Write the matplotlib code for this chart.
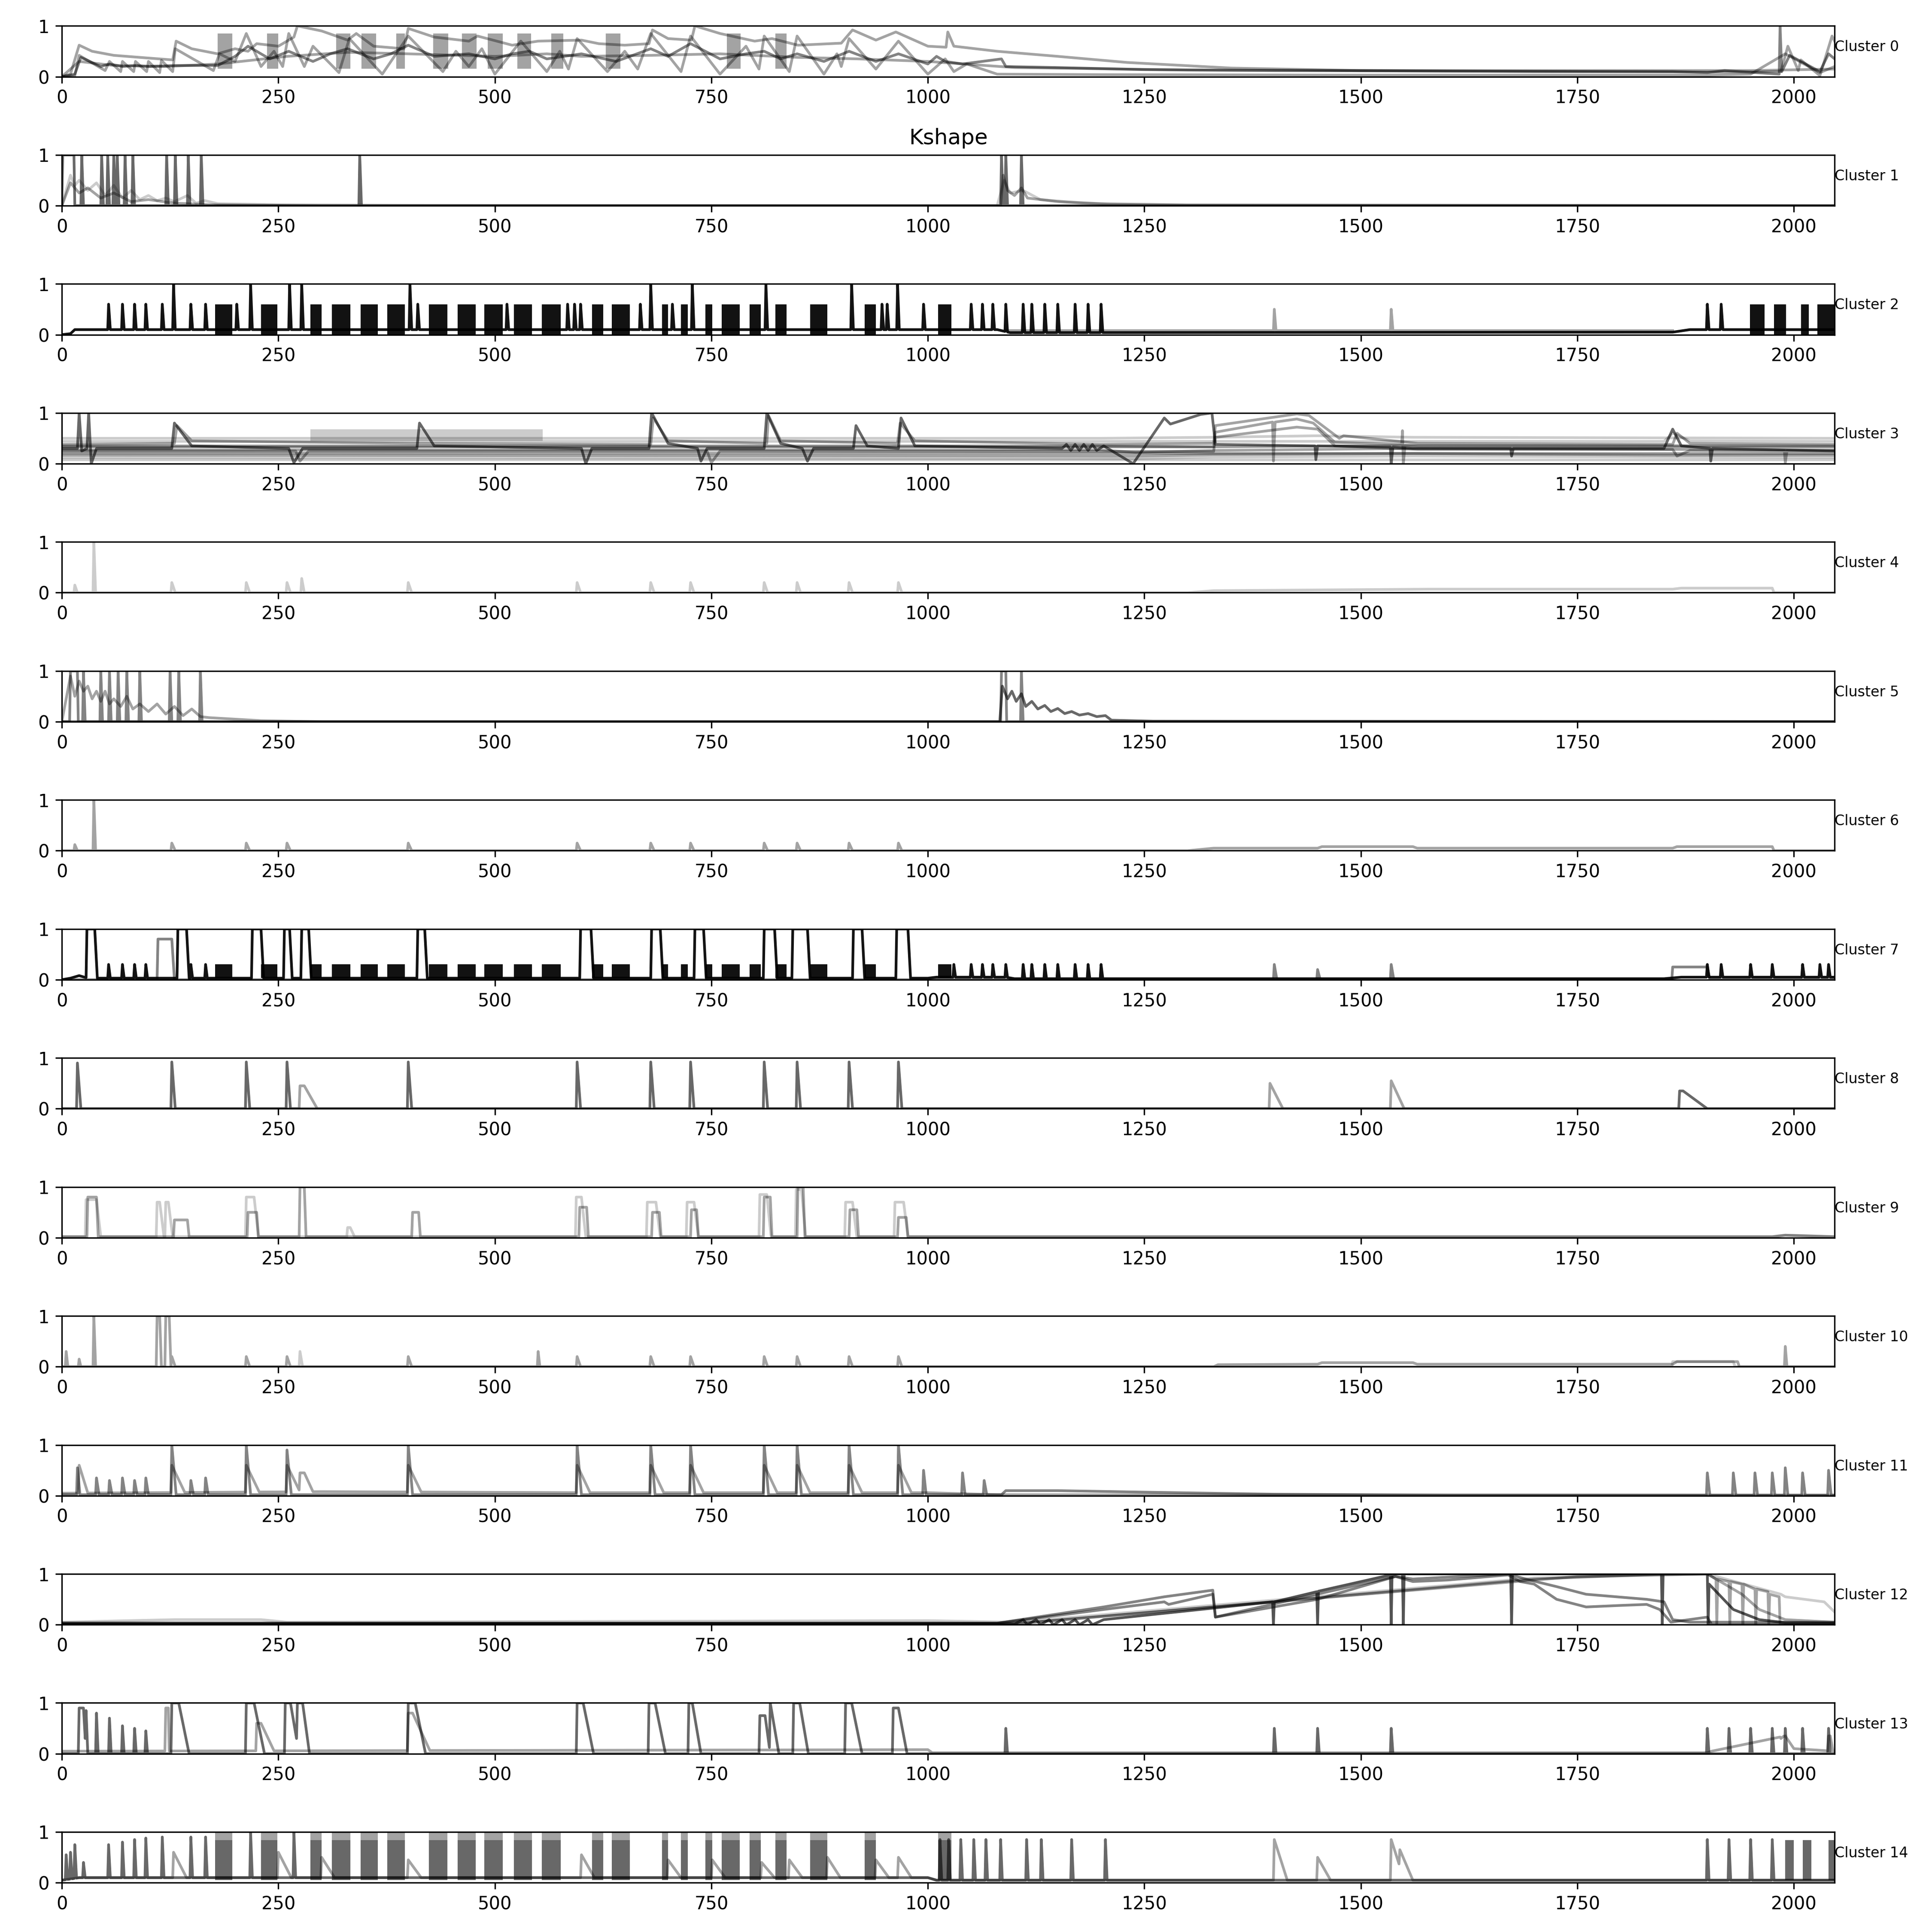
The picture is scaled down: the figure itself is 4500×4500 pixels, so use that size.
import numpy as np
import matplotlib.pyplot as plt

SERIES_LEN = 2047
TITLE = "Kshape"
LABEL = "Cluster {}"
XTICKS = [0, 250, 500, 750, 1000, 1250, 1500, 1750, 2000]

# recurring event times shared by many clusters
EV = [127, 213, 260, 400, 595, 680, 726, 811, 849, 909, 966]
# dense oscillation stretches (start, end)
BLOCKS = [(177, 197), (230, 249), (287, 300), (312, 333), (345, 365), (376, 396),
          (424, 445), (457, 478), (488, 509), (522, 543), (554, 576), (612, 625),
          (635, 656), (693, 700), (715, 723), (743, 751), (762, 783), (794, 807),
          (824, 837), (864, 884), (927, 940), (1012, 1027)]
BLOCKS_END = [(1949, 1966), (1977, 1991), (2008, 2017), (2027, 2047)]

# ---- cluster 0 --------------------------------------------------------------
C0_UPPER = [(0, 0), (10, 0.05), (20, 0.62), (35, 0.5), (60, 0.42), (90, 0.38), (128, 0.33),
            (132, 0.7), (150, 0.55), (180, 0.45), (200, 0.55), (215, 0.5), (225, 0.65),
            (250, 0.6), (268, 0.78), (272, 1.0), (300, 0.9), (330, 0.72), (340, 0.85),
            (360, 0.6), (395, 0.55), (400, 0.95), (430, 0.78), (470, 0.7), (480, 0.8),
            (520, 0.62), (550, 0.7), (600, 0.72), (620, 0.65), (650, 0.62), (678, 0.65),
            (682, 0.92), (700, 0.75), (727, 0.72), (731, 1.0), (760, 0.85), (800, 0.7),
            (820, 0.75), (850, 0.62), (900, 0.66), (913, 0.92), (940, 0.72), (963, 0.88),
            (1000, 0.6), (1021, 0.58), (1023, 0.88), (1030, 0.6), (1080, 0.5), (1150, 0.4),
            (1230, 0.28), (1350, 0.17), (1500, 0.12), (1700, 0.1), (1930, 0.09),
            (1985, 0.1), (1993, 0.6), (2005, 0.12), (2008, 0.33), (2030, 0.02),
            (2044, 0.8), (2047, 0.7)]
C0_LOWER = [(0, 0), (15, 0.02), (20, 0.42), (50, 0.12), (55, 0.3), (68, 0.1), (70, 0.3),
            (83, 0.1), (85, 0.3), (98, 0.1), (100, 0.3), (113, 0.08), (115, 0.32),
            (128, 0.1), (131, 0.55), (175, 0.12), (182, 0.45), (200, 0.3), (213, 0.85),
            (230, 0.2), (245, 0.5), (255, 0.2), (262, 0.85), (280, 0.2), (290, 0.6),
            (320, 0.08), (332, 0.75), (370, 0.05), (400, 0.8), (440, 0.1), (455, 0.5),
            (470, 0.2), (485, 0.55), (500, 0.05), (530, 0.7), (560, 0.1), (575, 0.5),
            (585, 0.15), (595, 0.75), (630, 0.1), (650, 0.5), (665, 0.15), (680, 0.85),
            (715, 0.1), (726, 0.8), (760, 0.05), (790, 0.6), (805, 0.15), (811, 0.8),
            (840, 0.1), (849, 0.8), (880, 0.05), (895, 0.45), (900, 0.2), (909, 0.75),
            (940, 0.15), (966, 0.7), (1000, 0.05), (1020, 0.35), (1030, 0.1),
            (1045, 0.25), (1080, 0.05), (1200, 0.04), (1500, 0.03), (1900, 0.03),
            (1950, 0.05), (1990, 0.45), (2030, 0.08), (2047, 0.2)]
C0_MID = [(0, 0), (15, 0.05), (22, 0.38), (45, 0.2), (55, 0.25), (70, 0.2), (85, 0.22),
          (100, 0.2), (130, 0.22), (180, 0.22), (200, 0.4), (215, 0.6), (240, 0.35),
          (262, 0.5), (290, 0.3), (310, 0.45), (330, 0.55), (360, 0.35), (380, 0.45),
          (400, 0.62), (430, 0.4), (470, 0.45), (500, 0.35), (520, 0.45), (540, 0.5),
          (560, 0.35), (600, 0.45), (640, 0.3), (680, 0.55), (700, 0.4), (726, 0.65),
          (760, 0.35), (790, 0.45), (811, 0.5), (830, 0.35), (849, 0.45), (880, 0.3),
          (909, 0.5), (940, 0.3), (966, 0.45), (1000, 0.25), (1010, 0.4), (1020, 0.3),
          (1040, 0.25), (1085, 0.35), (1090, 0.2), (1150, 0.18), (1250, 0.14),
          (1400, 0.12), (1600, 0.11), (1860, 0.1), (1900, 0.08), (1920, 0.12),
          (1983, 0.05), (1984, 1.0), (1986, 0.1), (1995, 0.42), (2030, 0.1),
          (2040, 0.45), (2047, 0.35)]
C0_SMOOTH = [(0, 0.0), (20, 0.3), (60, 0.22), (120, 0.2), (180, 0.25), (260, 0.4),
             (330, 0.48), (400, 0.45), (500, 0.4), (560, 0.45), (600, 0.4), (680, 0.42),
             (760, 0.45), (850, 0.38), (920, 0.35), (1000, 0.3), (1100, 0.18),
             (1300, 0.13), (1600, 0.12), (1950, 0.12), (2047, 0.15)]
C0_BLOCKS = [(180, 197), (237, 250), (317, 333), (346, 363), (386, 396), (429, 446),
             (462, 479), (492, 509), (526, 542), (565, 579), (628, 645), (768, 784),
             (824, 837)]

# ---- cluster 1 --------------------------------------------------------------
C1_SPIKE_POS = [23, 46, 53, 60, 64, 73, 82, 121, 131, 146, 161, 344, 1085, 1090, 1108]
C1_LIGHT = [(0, 0), (10, 0.6), (15, 0.4), (20, 0.5), (30, 0.3), (40, 0.45), (50, 0.2),
            (60, 0.4), (70, 0.15), (80, 0.3), (90, 0.12), (100, 0.2), (110, 0.1),
            (120, 0.15), (130, 0.08), (145, 0.2), (155, 0.05), (165, 0.1), (180, 0.04),
            (250, 0.02), (400, 0.01), (1080, 0.0), (1088, 0.5), (1095, 0.25),
            (1110, 0.3), (1130, 0.12), (1160, 0.08), (1200, 0.04), (1300, 0.02), (2047, 0.0)]
C1_MID = [(0, 0), (10, 0.45), (20, 0.25), (30, 0.35), (45, 0.15), (60, 0.25), (80, 0.08),
          (100, 0.12), (130, 0.05), (170, 0.02), (300, 0.0), (1084, 0), (1087, 0.6),
          (1092, 0.3), (1100, 0.2), (1108, 0.35), (1115, 0.15), (1130, 0.12),
          (1150, 0.08), (1180, 0.05), (1210, 0.03), (1300, 0.01), (2047, 0)]

# ---- cluster 2 --------------------------------------------------------------
C2_BASE = [(0, 0), (10, 0.02), (15, 0.1), (1080, 0.1), (1095, 0.04), (1860, 0.05),
           (1880, 0.1), (2047, 0.1)]
C2_SMALL = [54, 70, 84, 97, 116, 149, 166, 202, 411, 514, 584, 592, 599, 668, 705, 947,
            953, 995, 1050, 1063, 1075, 1090, 1110, 1120, 1135, 1150, 1170, 1185, 1200,
            1900, 1916]
C2_TALL = [129, 218, 263, 277, 402, 680, 728, 813, 912, 965]
C2_GRAY_POS = [1400, 1535]

# ---- cluster 3 --------------------------------------------------------------
C3_A = [(0, 0.3), (18, 0.3), (20, 1.0), (23, 0.25), (29, 0.3), (31, 1.0), (34, 0.0),
        (40, 0.3), (127, 0.3), (130, 0.8), (150, 0.35), (262, 0.3), (268, 0.02),
        (278, 0.3), (410, 0.3), (413, 0.8), (430, 0.35), (600, 0.3), (605, 0.0),
        (612, 0.3), (678, 0.3), (681, 1.0), (700, 0.4), (734, 0.3), (738, 0.05),
        (745, 0.3), (811, 0.3), (814, 1.0), (830, 0.4), (855, 0.3), (861, 0.05),
        (868, 0.3), (914, 0.3), (917, 0.75), (930, 0.35), (966, 0.3), (969, 0.9),
        (985, 0.35), (1155, 0.3), (1160, 0.38), (1165, 0.26), (1170, 0.38),
        (1175, 0.26), (1180, 0.38), (1185, 0.26), (1190, 0.38), (1195, 0.26),
        (1203, 0.35), (1237, 0.0), (1273, 0.9), (1280, 0.78), (1315, 0.97),
        (1328, 1.0), (1332, 0.38), (1447, 0.35), (1448, 0.08), (1450, 0.35),
        (1534, 0.33), (1535, 0.0), (1537, 0.33), (1560, 0.3), (1673, 0.3),
        (1674, 0.15), (1676, 0.3), (1850, 0.3), (1860, 0.68), (1870, 0.35),
        (1903, 0.3), (1904, 0.05), (1906, 0.3), (2047, 0.25)]
C3_B = [(0, 0.38), (130, 0.4), (133, 0.75), (150, 0.45), (400, 0.4), (680, 0.38),
        (683, 0.9), (700, 0.45), (814, 0.4), (816, 0.95), (830, 0.45), (965, 0.4),
        (968, 0.8), (985, 0.45), (1200, 0.38), (1330, 0.4), (1332, 0.75), (1426, 0.98),
        (1440, 0.95), (1475, 0.5), (1480, 0.55), (1566, 0.4), (1860, 0.38),
        (1865, 0.6), (1880, 0.4), (2047, 0.38)]
C3_C = [(0, 0.33), (1330, 0.33), (1332, 0.62), (1398, 0.82), (1399, 0.05), (1401, 0.82),
        (1426, 0.88), (1445, 0.8), (1470, 0.42), (1547, 0.38), (1548, 0.65),
        (1549, 0.0), (1551, 0.36), (1566, 0.34), (2047, 0.33)]
C3_D = [(0, 0.25), (270, 0.25), (275, 0.05), (285, 0.25), (745, 0.25), (750, 0.02),
        (760, 0.25), (1330, 0.24), (1332, 0.52), (1426, 0.72), (1450, 0.68),
        (1470, 0.35), (1566, 0.28), (1860, 0.28), (1865, 0.15), (1880, 0.26),
        (1989, 0.25), (1990, 0.02), (1992, 0.25), (2047, 0.25)]
C3_E = [(0, 0.5), (1200, 0.5), (1330, 0.52), (1450, 0.55), (1560, 0.52), (2047, 0.5)]
C3_E_BAND = [(287, 555)]
C3_F = [(0, 0.44), (1850, 0.44), (1860, 0.6), (1880, 0.45), (2047, 0.44)]
C3_G = [(0, 0.21), (2047, 0.2)]
C3_H = [(0, 0.17), (1240, 0.15), (1330, 0.18), (1560, 0.2), (1850, 0.17), (2047, 0.17)]
C3_I = [(0, 0.12), (1240, 0.1), (1330, 0.13), (1560, 0.15), (2047, 0.12)]
C3_J = [(0, 0.08), (2047, 0.08)]
C3_K = [(0, 0.27), (1200, 0.27), (1240, 0.22), (1330, 0.26), (1560, 0.3), (2047, 0.27)]
C3_L = [(0, 0.35), (1200, 0.35), (1330, 0.33), (1560, 0.36), (2047, 0.35)]

# ---- clusters 4 / 6 (sparse low spikes) -------------------------------------
C4_BASE = [(0, 0), (1300, 0), (1330, 0.04), (1580, 0.07), (1860, 0.07), (1870, 0.09),
           (1975, 0.09), (1977, 0.0), (2047, 0)]
C6_BASE = [(0, 0), (1300, 0), (1330, 0.05), (1450, 0.05), (1455, 0.08), (1560, 0.08),
           (1565, 0.05), (1860, 0.05), (1865, 0.08), (1975, 0.08), (1977, 0), (2047, 0)]

# ---- cluster 5 --------------------------------------------------------------
C5_SPIKE_POS = [25, 45, 55, 65, 75, 90, 125, 135, 160, 1108]
C5_LIGHT = [(0, 0), (10, 0.9), (15, 0.5), (20, 0.8), (25, 0.6), (30, 0.7), (35, 0.45),
            (40, 0.6), (45, 0.4), (50, 0.6), (55, 0.35), (60, 0.45), (68, 0.3),
            (75, 0.5), (82, 0.25), (90, 0.35), (100, 0.2), (110, 0.35), (120, 0.15),
            (130, 0.3), (140, 0.12), (150, 0.25), (160, 0.1), (170, 0.08), (200, 0.05),
            (230, 0.02), (300, 0), (2047, 0)]
C5_TAIL = [(0, 0), (1083, 0), (1086, 0.7), (1092, 0.45), (1097, 0.6), (1102, 0.4),
           (1108, 0.55), (1113, 0.3), (1120, 0.4), (1127, 0.25), (1135, 0.32),
           (1142, 0.2), (1150, 0.26), (1158, 0.16), (1166, 0.2), (1175, 0.13),
           (1185, 0.16), (1195, 0.1), (1205, 0.12), (1212, 0.03), (1260, 0.01), (2047, 0)]

# ---- cluster 7 --------------------------------------------------------------
C7_BASE = [(0, 0), (10, 0.03), (20, 0.08), (30, 0.03), (1000, 0.03), (1010, 0.05),
           (1090, 0.05), (1100, 0.02), (1850, 0.02), (1870, 0.05), (2047, 0.05)]
C7_PULSES = [(29, 38), (134, 144), (220, 230), (257, 263), (277, 285), (411, 419),
             (599, 611), (681, 691), (731, 741), (811, 823), (844, 861), (914, 924),
             (964, 977)]
C7_SMALL = [54, 70, 84, 97, 149, 166, 1030, 1050, 1063, 1075, 1090, 1110, 1120, 1135,
            1150, 1170, 1185, 1200, 1900, 1916, 1950, 1975, 2010, 2030, 2040]
C7_GRAY = [(111, 127, 0.8), (1400, 1400, 0.3), (1450, 1450, 0.2), (1535, 1535, 0.3),
           (1860, 1900, 0.25)]

# ---- cluster 8 --------------------------------------------------------------
C8_LIGHT = [(275, 280, 0.45), (1395, 1395, 0.5), (1535, 1535, 0.55)]

# ---- cluster 9 --------------------------------------------------------------
C9_MID = [(30, 40, 0.8), (130, 145, 0.35), (215, 225, 0.5), (275, 280, 1.0), (405, 412, 0.5),
          (598, 606, 0.6), (682, 690, 0.5), (727, 733, 0.55), (811, 818, 0.8),
          (850, 856, 1.0), (910, 918, 0.55), (966, 975, 0.4)]
C9_LIGHT = [(28, 40, 0.75), (110, 113, 0.7), (120, 123, 0.7), (213, 222, 0.8), (330, 333, 0.2),
            (594, 600, 0.8), (676, 686, 0.7), (722, 730, 0.7), (806, 814, 0.85),
            (848, 854, 0.95), (905, 913, 0.7), (962, 972, 0.7)]
C9_BASE = [(0, 0.02), (1330, 0.02), (1975, 0.02), (1990, 0.05), (2047, 0.02)]

# ---- cluster 10 -------------------------------------------------------------
C10_BASE = [(0, 0), (1330, 0), (1335, 0.04), (1450, 0.05), (1455, 0.08), (1560, 0.08),
            (1565, 0.05), (1860, 0.05), (1865, 0.1), (1935, 0.1), (1937, 0), (2047, 0)]
C10_EXTRA = [(5, 5, 0.3), (20, 20, 0.15), (37, 37, 1.0), (110, 113, 1.0), (120, 124, 1.0),
             (550, 550, 0.3), (1990, 1990, 0.4)]

# ---- cluster 11 -------------------------------------------------------------
C11_BASE = [(0, 0.02), (1085, 0.02), (1090, 0.1), (1150, 0.1), (1250, 0.07), (1400, 0.03),
            (1600, 0.01), (2047, 0.01)]
C11_SMALL = [(18, 0.55), (40, 0.35), (55, 0.3), (70, 0.35), (84, 0.3), (97, 0.35),
             (149, 0.3), (166, 0.35), (995, 0.5), (1040, 0.45), (1065, 0.3),
             (1900, 0.45), (1930, 0.45), (1955, 0.45), (1975, 0.45), (1990, 0.55),
             (2010, 0.45), (2040, 0.5)]
C11_LIGHT_BASE = [(0, 0.05), (300, 0.08), (600, 0.06), (1000, 0.06), (1080, 0.02), (2047, 0.01)]

# ---- cluster 12 -------------------------------------------------------------
C12_A = [(0, 0.01), (1100, 0.01), (1110, 0.1), (1115, 0.0), (1125, 0.1), (1130, 0.0),
         (1140, 0.1), (1145, 0), (1155, 0.1), (1160, 0), (1170, 0.1), (1175, 0),
         (1185, 0.1), (1190, 0), (1203, 0.1), (1398, 0.45), (1399, 0.0), (1400, 0.45),
         (1449, 0.65), (1450, 0), (1451, 0.66), (1534, 0.98), (1535, 0), (1536, 0.98),
         (1540, 1.0), (1548, 1.0), (1549, 0), (1550, 1.0), (1673, 1.0), (1674, 0),
         (1675, 1.0), (1847, 1.0), (1848, 0), (1849, 1.0), (1900, 1.0), (1901, 0),
         (1902, 0.8), (1930, 0.3), (1960, 0.1), (1990, 0.04), (2047, 0.03)]
C12_B = [(0, 0.02), (1080, 0.03), (1203, 0.3), (1273, 0.45), (1278, 0.4), (1329, 0.6),
         (1332, 0.15), (1450, 0.5), (1540, 0.95), (1560, 0.85), (1600, 0.88), (1670, 0.98),
         (1684, 0.85), (1700, 0.8), (1726, 0.5), (1760, 0.35), (1800, 0.38), (1830, 0.4),
         (1845, 0.3), (1858, 0.05), (1900, 0.15), (1905, 0.0), (2047, 0.02)]
C12_B2 = [(0, 0.02), (1080, 0.03), (1203, 0.35), (1273, 0.55), (1329, 0.68), (1332, 0.15),
          (1540, 0.95), (1560, 0.9), (1670, 1.0), (1690, 0.9), (1726, 0.75), (1760, 0.6),
          (1830, 0.5), (1850, 0.45), (1860, 0.1), (1880, 0.05), (2047, 0.05)]
C12_C = [(0, 0.03), (1105, 0.02), (1700, 0.9), (1850, 1.0), (1900, 1.0), (1940, 0.6),
         (1960, 0.3), (1990, 0.1), (2047, 0.05)]
C12_C2 = [(0, 0.04), (1105, 0.03), (1750, 0.95), (1900, 1.0), (1910, 0.9), (1911, 0.0),
          (1912, 0.9), (1925, 0.85), (1926, 0), (1927, 0.85), (1940, 0.8), (1941, 0),
          (1942, 0.8), (1955, 0.7), (1956, 0), (1957, 0.7), (1970, 0.65), (1971, 0),
          (1972, 0.6), (1983, 0.55), (1984, 0), (2047, 0.0)]
C12_D = [(0, 0.05), (130, 0.1), (230, 0.1), (260, 0.05), (1000, 0.08), (1100, 0.05),
         (1700, 0.92), (1900, 1.0), (1985, 0.6), (1990, 0.55), (2035, 0.45), (2047, 0.25)]

# ---- cluster 13 -------------------------------------------------------------
C13_PULSES = [(20, 25, 0.9, 3), (28, 28, 0.85, 2), (40, 40, 0.8, 2), (55, 55, 0.7, 2),
              (70, 70, 0.55, 2), (84, 84, 0.5, 2), (97, 97, 0.45, 2), (127, 135, 1.0, 12),
              (213, 222, 1.0, 12), (258, 264, 1.0, 10), (272, 278, 1.0, 8),
              (400, 408, 1.0, 12), (595, 602, 1.0, 12), (678, 685, 1.0, 12),
              (724, 728, 1.0, 10), (806, 812, 0.75, 6), (818, 818, 1.0, 10),
              (845, 852, 1.0, 10), (905, 912, 1.0, 12), (960, 966, 0.9, 10)]
C13_SMALL = [1090, 1400, 1450, 1535, 1900, 1925, 1950, 1975, 1990, 2010, 2040]
C13_LIGHT_BASE = [(0, 0.05), (1000, 0.08), (1005, 0.02), (1900, 0.02), (1905, 0.05),
                  (1990, 0.35), (2000, 0.1), (2047, 0.05)]
C13_LIGHT = [(120, 123, 0.9, 1), (225, 230, 0.6, 15), (400, 405, 0.8, 20),
             (1985, 1985, 0.3, 3), (2040, 2042, 0.35, 3)]

# ---- cluster 14 -------------------------------------------------------------
C14_BASE = [(0, 0.05), (20, 0.1), (1000, 0.1), (1010, 0.05), (1880, 0.05), (2047, 0.05)]
C14_SPIKES = [(5, 0.55), (10, 0.6), (15, 0.75), (25, 0.4), (54, 0.75), (70, 0.8),
              (84, 0.85), (97, 0.88), (116, 0.9), (149, 0.9), (166, 0.9), (218, 1.0),
              (268, 1.0), (1014, 0.85), (1024, 0.85), (1038, 0.85), (1053, 0.85),
              (1067, 0.85), (1084, 0.85), (1114, 0.85), (1131, 0.85), (1166, 0.85),
              (1205, 0.85), (1900, 0.85), (1925, 0.85), (1950, 0.85), (1975, 0.85)]
C14_TAILS = [(129, 0.6), (250, 0.6), (300, 0.5), (400, 0.45), (600, 0.55), (700, 0.45),
             (751, 0.45), (808, 0.4), (840, 0.45), (884, 0.5), (940, 0.45), (966, 0.5)]
C14_LIGHT = [(1400, 0.85), (1450, 0.5), (1535, 0.85), (1545, 0.65)]
C14_END_BLOCKS = [(1990, 2000), (2010, 2020), (2040, 2047)]


def trace(base, events=()):
    # merge a base path with (start, end, height, fall) events
    bx = [p[0] for p in base]
    by = [p[1] for p in base]
    ev = sorted(events)
    xs, ys = [], []
    cur = -1e9
    for k, (x0, x1, h, d) in enumerate(ev):
        if x0 - 1 <= cur:
            x0 = cur + 1
        for px, py in base:
            if cur < px < x0 - 1:
                xs.append(px)
                ys.append(py)
        end = x1 + d
        yend = np.interp(end, bx, by)
        nxt = ev[k + 1][0] - 1 if k + 1 < len(ev) else 1e9
        if end > nxt:
            f = (nxt - x1) / float(d)
            yend = h + (yend - h) * f
            end = nxt
        xs += [x0 - 1, x0, x1, end]
        ys += [np.interp(x0 - 1, bx, by) if not xs[:-4] or xs[-5] < x0 - 1 else ys[-1],
               h, h, yend]
        cur = end
    for px, py in base:
        if px > cur:
            xs.append(px)
            ys.append(py)
    return xs, ys


def spk(pos, h, d=2):
    return [(p, p, h, d) for p in pos]


def alpha_n(n):
    return 1 - 0.8 ** n


def line(ax, path, n, events=()):
    xs, ys = trace(path, events)
    ax.plot(xs, ys, "k-", alpha=alpha_n(n), lw=1.5)


def blocks(ax, spans, lo, hi, n):
    for x0, x1 in spans:
        ax.fill_between([x0, x1], [lo, lo], [hi, hi], color="k", alpha=alpha_n(n), lw=0)


FLAT = [(0, 0), (2047, 0)]

fig, axes = plt.subplots(15, 1, figsize=(15, 15))
fig.subplots_adjust(left=0.032, right=0.9496, top=0.9866, bottom=0.0255, hspace=1.54)

# cluster 0
ax = axes[0]
blocks(ax, C0_BLOCKS, 0.16, 0.85, 2)
line(ax, C0_UPPER, 2)
line(ax, C0_LOWER, 2)
line(ax, C0_MID, 3)
line(ax, C0_SMOOTH, 2)

# cluster 1
ax = axes[1]
line(ax, C1_LIGHT, 1)
line(ax, C1_MID, 2)
line(ax, FLAT, 4, [(1, 14, 1.0, 1)] + spk(C1_SPIKE_POS, 1.0, 2))

# cluster 2
ax = axes[2]
blocks(ax, BLOCKS + BLOCKS_END, 0.0, 0.6, 12)
line(ax, C2_BASE, 12, spk(C2_SMALL, 0.6, 2) + spk(C2_TALL, 1.0, 2))
line(ax, [(1090, 0.08), (1860, 0.08)], 2, spk(C2_GRAY_POS, 0.5, 2))

# cluster 3
ax = axes[3]
blocks(ax, C3_E_BAND, 0.45, 0.68, 1)
for path, n in [(C3_E, 1), (C3_F, 1), (C3_G, 2), (C3_H, 2), (C3_I, 1), (C3_J, 1),
                (C3_K, 2), (C3_L, 2), (C3_D, 2), (C3_C, 2), (C3_B, 2), (C3_A, 4)]:
    line(ax, path, n)

# cluster 4
ax = axes[4]
line(ax, C4_BASE, 1, [(15, 15, 0.15, 3), (37, 37, 1.0, 2), (277, 277, 0.28, 3)]
     + spk(EV, 0.2, 4))

# cluster 5
ax = axes[5]
line(ax, C5_LIGHT, 2)
line(ax, C5_TAIL, 4)
line(ax, FLAT, 3, [(10, 18, 1.0, 1), (1085, 1090, 1.0, 1)] + spk(C5_SPIKE_POS, 1.0, 2))

# cluster 6
ax = axes[6]
line(ax, C6_BASE, 2, [(15, 15, 0.12, 3), (37, 37, 1.0, 2)] + spk(EV, 0.15, 4))

# cluster 7
ax = axes[7]
blocks(ax, BLOCKS, 0.03, 0.3, 12)
line(ax, C7_BASE, 12, [(a, b, 1.0, 3) for a, b in C7_PULSES] + spk(C7_SMALL, 0.3, 2))
line(ax, FLAT, 3, [(a, b, h, 3) for a, b, h in C7_GRAY])

# cluster 8
ax = axes[8]
line(ax, FLAT, 4, [(18, 18, 0.9, 4)] + spk(EV, 0.92, 4) + [(1868, 1872, 0.35, 28)])
line(ax, FLAT, 2, [(a, b, h, 15) for a, b, h in C8_LIGHT])

# cluster 9
ax = axes[9]
line(ax, C9_BASE, 2, [(a, b, h, 2) for a, b, h in C9_MID])
line(ax, C9_BASE, 1, [(a, b, h, 5) for a, b, h in C9_LIGHT])

# cluster 10
ax = axes[10]
line(ax, C10_BASE, 2, [(a, b, h, 2) for a, b, h in C10_EXTRA] + spk(EV, 0.2, 4))
line(ax, FLAT, 1, [(275, 275, 0.3, 3), (1860, 1930, 0.1, 2)])

# cluster 11
ax = axes[11]
line(ax, C11_LIGHT_BASE, 2, [(20, 20, 0.6, 10), (275, 280, 0.45, 10)]
     + [(p, p, 0.6, 15) for p in EV])
line(ax, C11_BASE, 3, [(p, p, h, 3) for p, h in C11_SMALL]
     + [(p, p, 1.0 if p != 260 else 0.9, 5) for p in EV])

# cluster 12
ax = axes[12]
line(ax, C12_D, 1)
line(ax, C12_C, 2)
line(ax, C12_C2, 2)
line(ax, C12_B, 3)
line(ax, C12_B2, 3)
line(ax, C12_A, 5)

# cluster 13
ax = axes[13]
line(ax, C13_LIGHT_BASE, 2, C13_LIGHT)
line(ax, FLAT, 4, C13_PULSES + spk(C13_SMALL, 0.5, 2))

# cluster 14
ax = axes[14]
blocks(ax, BLOCKS + C14_END_BLOCKS, 0.05, 0.84, 4)
blocks(ax, BLOCKS, 0.84, 1.0, 2)
line(ax, C14_BASE, 2, [(p, p, h, 15) for p, h in C14_TAILS + C14_LIGHT])
line(ax, C14_BASE, 4, [(p, p, h, 2) for p, h in C14_SPIKES])

for i, ax in enumerate(axes):
    ax.set_xlim(0, SERIES_LEN)
    ax.set_ylim(0, 1)
    ax.set_xticks(XTICKS)
    ax.set_yticks([0, 1])
    ax.text(SERIES_LEN, 0.5, LABEL.format(i), fontsize=8)
axes[1].set_title(TITLE)

fig.savefig("out.png", dpi=300)
